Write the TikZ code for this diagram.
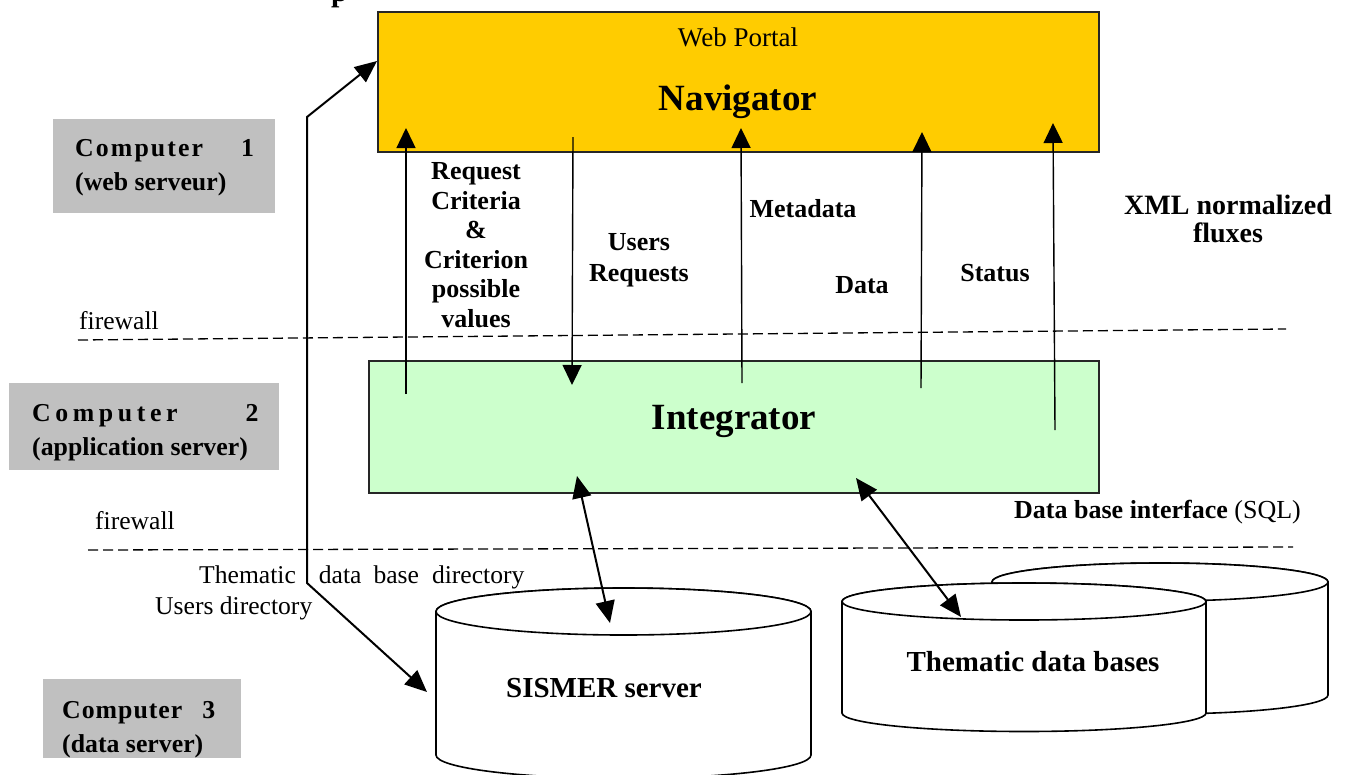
\documentclass[tikz,border=0pt]{standalone}
\usepackage{fontspec}
\setmainfont{Liberation Serif}
\usetikzlibrary{arrows.meta}
\definecolor{navfill}{RGB}{255,204,0}
\definecolor{intfill}{RGB}{204,255,204}
\definecolor{grayfill}{RGB}{192,192,192}
\newcommand\cmpt[1]{C\kern#1 o\kern#1 m\kern#1 p\kern#1 u\kern#1 t\kern#1 e\kern#1 r}
\newcommand\drawcyl[5]{%
  \filldraw[cyl] (#1-#4,#2) -- (#1-#4,#3) arc[start angle=180,end angle=360,x radius=#4pt,y radius=#5pt] -- (#1+#4,#2) arc[start angle=0,end angle=180,x radius=#4pt,y radius=#5pt] -- cycle;
  \draw[cyl] (#1,#2) ellipse[x radius=#4pt, y radius=#5pt];}
\begin{document}
\begin{tikzpicture}[x=1pt,y=-1pt,
  box/.style={draw=black!85, line width=1.3pt, inner sep=0pt},
  graybox/.style={fill=grayfill, inner sep=0pt},
  lab/.style={font=\fontsize{26}{29.5}\selectfont\bfseries, align=center, inner sep=0pt},
  reg/.style={font=\fontsize{25.6}{30}\selectfont, inner sep=0pt},
  cmp/.style={font=\fontsize{25.8}{34}\selectfont\bfseries, align=left, inner sep=0pt, anchor=west},
  flow/.style={line width=1.4pt, -{Triangle[length=20pt,width=19pt]}},
  link/.style={line width=2pt, {Triangle[length=22pt,width=19pt]}-{Triangle[length=22pt,width=19pt]}},
  fw/.style={line width=1.3pt, dash pattern=on 10pt off 5pt},
  cyl/.style={fill=white, draw=black, line width=1.6pt}
]
\useasboundingbox (0,0) rectangle (1351,774);

% cut title fragment
\node[anchor=base west, inner sep=0pt, font=\fontsize{30}{30}\selectfont\bfseries] (ttop) at (331,1) {p};

% main boxes
\node[box, fill=navfill, minimum width=721pt, minimum height=140pt] (nav) at (738.5,82) {};
\node[box, fill=intfill, minimum width=730pt, minimum height=132pt] (integ) at (734,427) {};
\node[font=\fontsize{27}{30}\selectfont, inner sep=0pt] (tweb) at (738,37) {Web Portal};
\node[font=\fontsize{37}{40}\selectfont\bfseries, inner sep=0pt] (tnav) at (738,102) {Navigator};
\node[font=\fontsize{37}{40}\selectfont\bfseries, inner sep=0pt] (tint) at (734,421) {Integrator};

% computer boxes
\node[graybox, minimum width=222pt, minimum height=94pt] (c1) at (164,166) {};
\node[graybox, minimum width=270pt, minimum height=87pt] (c2) at (144,426.5) {};
\node[graybox, minimum width=198pt, minimum height=79pt] (c3) at (142,718.5) {};
\node[cmp] (tc1) at (75,168) {\cmpt{2.1pt}\hspace{38pt}1\\(web serveur)};
\node[cmp] (tc2) at (32,433) {\cmpt{4.6pt}\hspace{68pt}2\\(application server)};
\node[cmp] (tc3) at (62,730) {\cmpt{1pt}\hspace{20pt}3\\(data server)};

% firewalls
\draw[fw] (78,340) -- (1286,329);
\draw[fw] (88,550) -- (1293,547);
\node[reg, anchor=west] (fw1) at (79,321) {firewall};
\node[reg, anchor=west] (fw2) at (95,521) {firewall};

% flows between navigator and integrator
\coordinate (a1s) at (406,394); \coordinate (a1e) at (406,128);
\coordinate (a2s) at (573,137); \coordinate (a2e) at (572,385);
\coordinate (a3s) at (742,383); \coordinate (a3e) at (741,128);
\coordinate (a4s) at (921,388); \coordinate (a4e) at (922,132);
\coordinate (a5s) at (1055,430); \coordinate (a5e) at (1053,123);
\draw[flow] (a1s) -- (a1e);
\draw[flow] (a2s) -- (a2e);
\draw[flow] (a3s) -- (a3e);
\draw[flow] (a4s) -- (a4e);
\draw[flow] (a5s) -- (a5e);

\node[lab] (treq) at (476,245) {Request\\Criteria\\\&\\Criterion\\possible\\values};
\node[lab, font=\fontsize{26}{31.5}\selectfont\bfseries] (tusr) at (639,260) {Users\\Requests};
\node[lab] (tmeta) at (803,209) {Metadata};
\node[lab] (tdata) at (862,285) {Data};
\node[lab] (tstat) at (995,273) {Status};
\node[lab, font=\fontsize{28}{28}\selectfont\bfseries] (txml) at (1228,219) {XML normalized\\fluxes};
\node[anchor=west, inner sep=0pt, font=\fontsize{26}{30}\selectfont] (tsql) at (1014,512) {\textbf{Data base interface} (SQL)};

% cylinders
\drawcyl{623.5}{611.5}{755}{187.5}{23.5}
\drawcyl{1160}{582}{695}{168}{19}
\drawcyl{1024}{601.5}{713}{182}{18.5}
\node[font=\fontsize{29}{30}\selectfont\bfseries, inner sep=0pt] (tsis) at (604,688) {SISMER server};
\node[font=\fontsize{29}{30}\selectfont\bfseries, inner sep=0pt] (tthem) at (1033,662) {Thematic data bases};

% directories
\node[reg, anchor=west] (tdir) at (199,577) {Thematic\hspace{23pt}data\hspace{12pt}base\hspace{13pt}directory};
\node[reg, anchor=west] (tudir) at (155,608) {Users directory};

% links
\coordinate (L0) at (377,61); \coordinate (L1) at (307,117);
\coordinate (L2) at (307,583); \coordinate (L3) at (427,692);
\draw[link] (L0) -- (L1) -- (L2) -- (L3);
\coordinate (is) at (577,476); \coordinate (ss) at (610,623);
\draw[link] (is) -- (ss);
\coordinate (it) at (856,478); \coordinate (ts) at (961,617);
\draw[link] (it) -- (ts);
\end{tikzpicture}
\end{document}
